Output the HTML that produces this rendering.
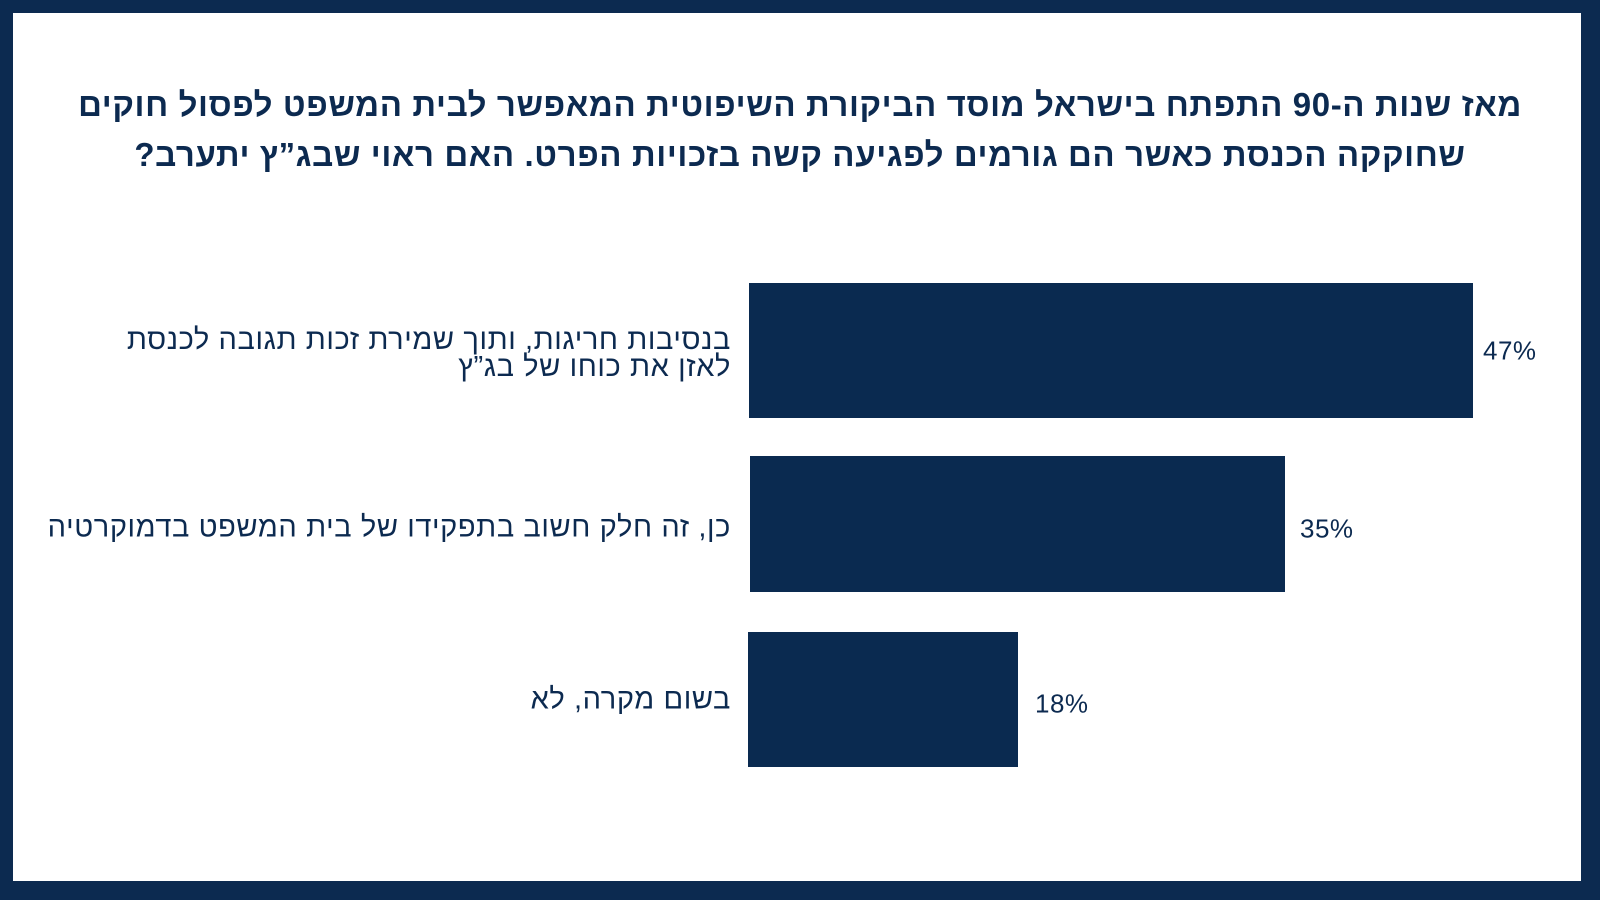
<!DOCTYPE html>
<html><head><meta charset="utf-8"><style>
html,body{margin:0;padding:0}
body{width:1600px;height:900px;background:#0c2a50;position:relative;overflow:hidden;font-family:"Liberation Sans","Noto Sans CJK SC",sans-serif;color:#0c2a50}
.card{position:absolute;left:13px;top:13px;width:1568px;height:868px;background:#fff}
.title{position:absolute;left:0px;width:1600px;top:80px;text-align:center;direction:rtl;font-weight:bold;font-size:33px;letter-spacing:0.6px;line-height:50px;white-space:nowrap}
.bar{position:absolute;background:#0a2a50}
.val{position:absolute;font-size:26px;letter-spacing:0.5px;transform:translateY(-50%)}
.lab{position:absolute;right:869px;direction:rtl;text-align:right;font-size:29px;letter-spacing:0.6px;line-height:27px;transform:translateY(-50%);white-space:nowrap}
</style></head><body>
<div class="card"></div>
<div class="title">מאז שנות ה-90 התפתח בישראל מוסד הביקורת השיפוטית המאפשר לבית המשפט לפסול חוקים<br>שחוקקה הכנסת כאשר הם גורמים לפגיעה קשה בזכויות הפרט. האם ראוי שבג”ץ יתערב?</div>
<div class="bar" style="left:749px;top:283px;width:724px;height:135px"></div>
<div class="bar" style="left:750px;top:456px;width:535px;height:136px"></div>
<div class="bar" style="left:748px;top:632px;width:270px;height:135px"></div>
<div class="val" style="left:1483px;top:351px">47%</div>
<div class="val" style="left:1300px;top:529px">35%</div>
<div class="val" style="left:1035px;top:704px">18%</div>
<div class="lab" style="top:354px">בנסיבות חריגות, ותוך שמירת זכות תגובה לכנסת<br>לאזן את כוחו של בג”ץ</div>
<div class="lab" style="top:528px">כן, זה חלק חשוב בתפקידו של בית המשפט בדמוקרטיה</div>
<div class="lab" style="top:700px">בשום מקרה, לא</div>
</body></html>
